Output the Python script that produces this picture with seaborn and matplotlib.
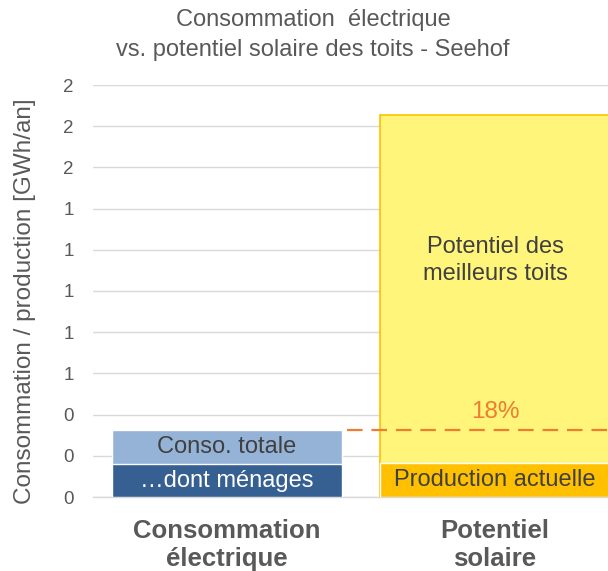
"""Consommation électrique vs. potentiel solaire des toits - Seehof."""

import matplotlib

matplotlib.use("Agg")
import matplotlib.pyplot as plt
import matplotlib.ticker as ticker
import pandas as pd
import seaborn as sns

categories = ["Consommation\nélectrique", "Potentiel\nsolaire"]
total_values = [0.325, 1.854]   # conso totale / potentiel des meilleurs toits
base_values = [0.160, 0.165]    # ...dont ménages / production actuelle
total_labels = ["Conso. totale", "Potentiel des\nmeilleurs toits"]
base_labels = ["…dont ménages", "Production actuelle"]

GREY = "#595959"
sns.set_theme(style="white")
plt.rcParams["font.family"] = ["Liberation Sans", "DejaVu Sans"]

df = pd.DataFrame({"cat": categories, "total": total_values, "base": base_values})

fig = plt.figure(figsize=(6.08, 5.71), dpi=100)
ax = fig.add_axes([93 / 608, 74 / 571, 536 / 608, 412 / 571])

sns.barplot(data=df, x="cat", y="total", hue="cat", palette=["#95B3D7", "#FFF57A"],
            width=0.86, saturation=1, legend=False, ax=ax, zorder=2)
sns.barplot(data=df, x="cat", y="base", hue="cat", palette=["#366092", "#FFC000"],
            width=0.86, saturation=1, legend=False, ax=ax, zorder=3)

# golden outline around the solar potential bar
ax.patches[1].set_edgecolor("#FFC000")
ax.patches[1].set_linewidth(1.2)

ax.set_xlim(-0.5, 1.5)
ax.set_ylim(0, 2.0)
ax.yaxis.set_major_locator(ticker.MultipleLocator(0.2))
ax.yaxis.set_major_formatter(ticker.FormatStrFormatter("%.0f"))
ax.yaxis.grid(True, color="#D9D9D9", linewidth=1.0, zorder=0)
ax.set_axisbelow(True)

ax.xaxis.set_minor_locator(ticker.FixedLocator([-0.5, 0.5, 1.5]))
ax.tick_params(axis="x", which="major", length=0, pad=16, labelsize=18.5, labelcolor=GREY)
ax.tick_params(axis="x", which="minor", length=7, width=1, color="#D9D9D9", direction="out")
ax.tick_params(axis="y", length=0, pad=14, labelsize=13.5, labelcolor=GREY)
for lbl in ax.get_xticklabels():
    lbl.set_fontweight("bold")

for side in ["left", "right", "top"]:
    ax.spines[side].set_visible(False)
ax.spines["bottom"].set_color("#D9D9D9")
ax.spines["bottom"].set_linewidth(1.0)

ax.set_xlabel("")
ax.set_ylabel("Consommation / production [GWh/an]", fontsize=17.5, color=GREY)
ax.yaxis.set_label_coords(-0.106, 0.476)

# bar annotations
ax.text(0, (total_values[0] + base_values[0]) / 2, total_labels[0], ha="center", va="center",
        fontsize=17, color="#404040", zorder=5)
ax.text(0, base_values[0] / 2, base_labels[0], ha="center", va="center",
        fontsize=17, color="white", zorder=5)
ax.text(1, 1.15, total_labels[1], ha="center", va="center", fontsize=17,
        color="#404040", linespacing=1.3, zorder=5)
ax.text(1, base_values[1] / 2, base_labels[1], ha="center", va="center",
        fontsize=17, color="#404040", zorder=5)

# share of consumption covered by the best roofs
share = total_values[0] / total_values[1] * 100
ax.plot([0.448, 1.5], [total_values[0], total_values[0]], color="#ED7D31",
        linewidth=1.6, dashes=(7, 4), zorder=4)
ax.text(1, 0.415, f"{share:.0f}%", ha="center", va="center", fontsize=17.5,
        color="#ED7D31", zorder=5)

fig.text(313 / 608, 1 - 20 / 571, "Consommation  électrique", ha="center", va="center",
         fontsize=17, color=GREY)
fig.text(313 / 608, 1 - 50 / 571, "vs. potentiel solaire des toits - Seehof", ha="center",
         va="center", fontsize=17, color=GREY)

fig.savefig("out.png", dpi=100)
plt.close(fig)
